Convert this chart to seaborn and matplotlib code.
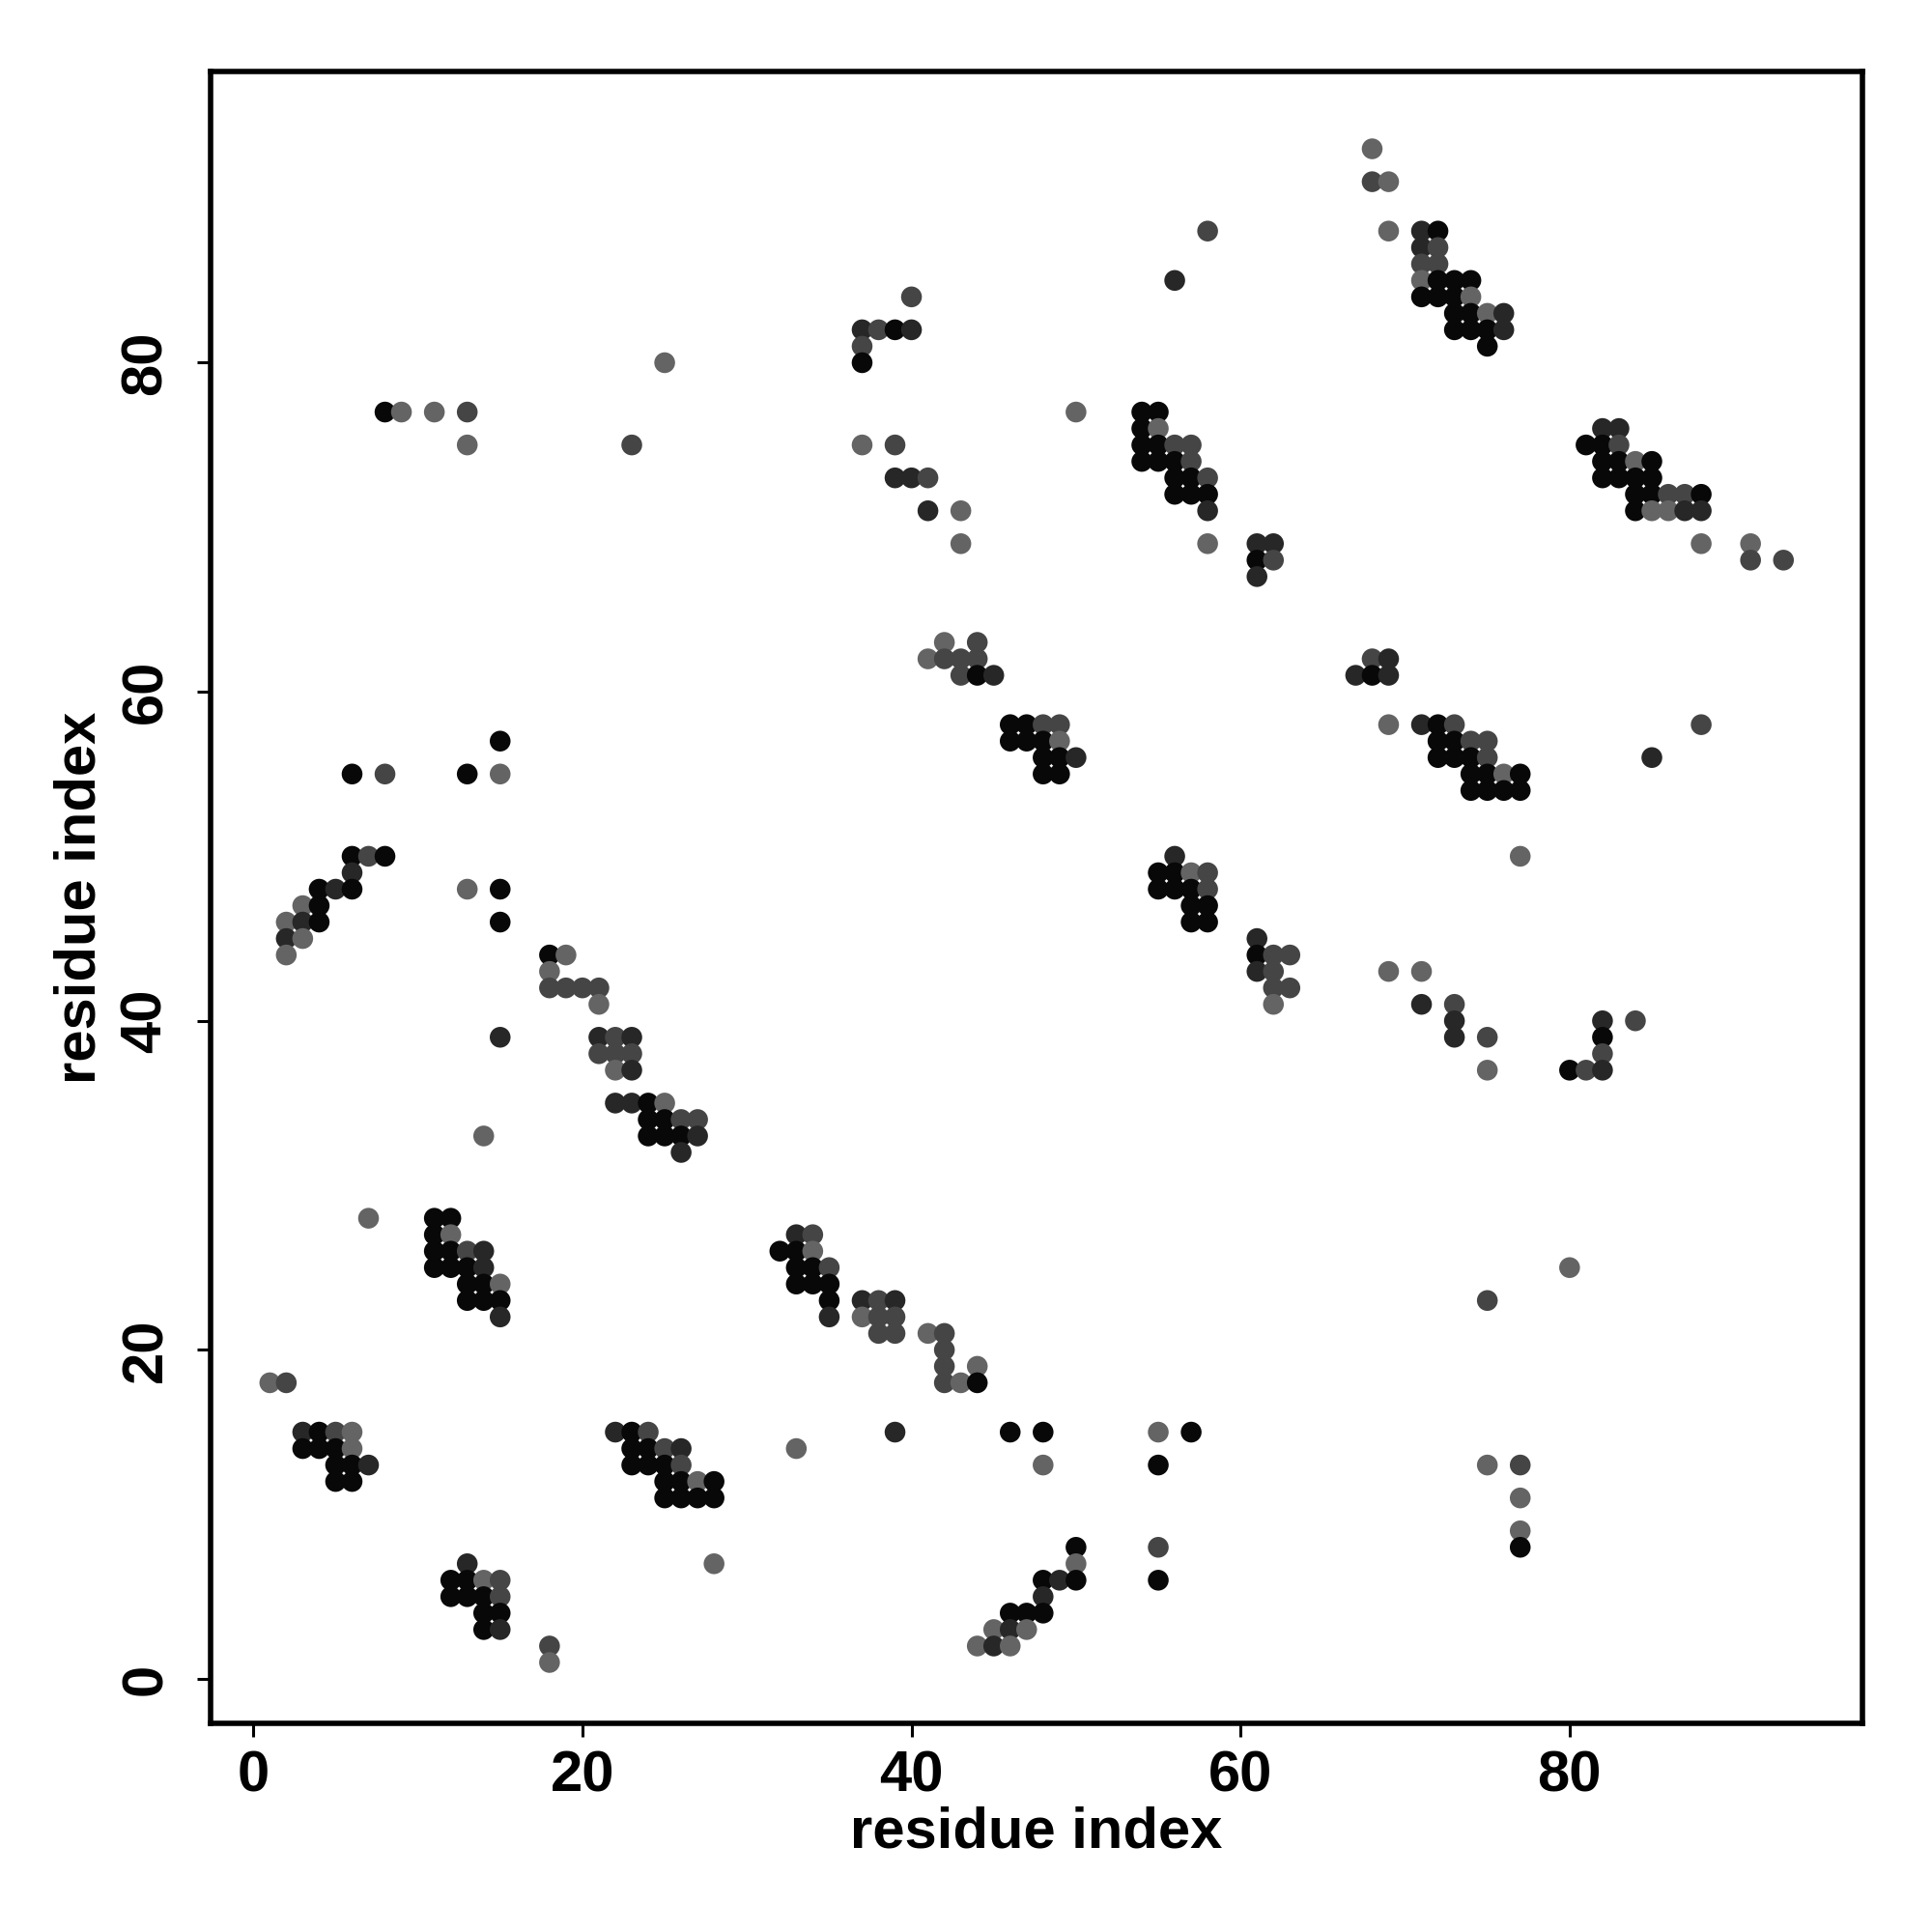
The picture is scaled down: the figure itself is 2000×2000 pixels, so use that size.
#====================================================================
# Mapa de contactos entre residuos (contact map)
#====================================================================

import pandas as pd
import matplotlib
matplotlib.use("Agg")
import matplotlib.pyplot as plt
from matplotlib.colors import LinearSegmentedColormap
import seaborn as sns

#====================================================================
# DATOS: residuo i, residuo j, score del contacto
#====================================================================

res_i = [
    8, 9, 11, 13, 13, 23, 25,
    58, 56, 40, 37, 38, 39, 40, 37, 37, 50, 54, 55, 54, 55,
    54, 55, 56, 57, 54, 55, 56, 57, 56, 57, 58, 56, 57, 58, 58, 58,
    37, 39, 39, 40, 41, 41, 43, 43, 61, 62, 61, 62, 61,
    68, 68, 69, 69, 71, 72, 71, 72, 71, 72, 71, 72, 73, 74,
    71, 72, 73, 74, 73, 74, 75, 76, 73, 74, 75, 76, 75,
    82, 83, 81, 82, 83, 82, 83, 84, 85, 82, 83, 84, 85,
    84, 85, 86, 87, 88, 84, 85, 86, 87, 88, 88, 91, 91, 93,
    15, 6, 8, 13, 15, 6, 7, 8, 6, 4, 5, 6, 13, 15, 3, 4,
    2, 3, 4, 15, 2, 3, 2, 18, 19, 18, 18, 19, 20, 21, 21, 15,
    21, 22, 23, 21, 22, 23, 22, 23, 14,
    22, 23, 24, 25, 24, 25, 26, 27, 24, 25, 26, 27, 26,
    42, 44, 41, 42, 43, 44, 43, 44, 45,
    46, 47, 48, 49, 46, 47, 48, 49, 48, 49, 50, 48, 49,
    56, 55, 56, 57, 58, 55, 56, 57, 58, 57, 58, 57, 58,
    61, 61, 62, 63, 61, 62, 62, 63, 62,
    68, 69, 67, 68, 69, 69, 71, 72, 73, 88, 72, 73, 74, 75,
    72, 73, 74, 75, 85, 74, 75, 76, 77, 74, 75, 76, 77, 77,
    69, 71, 71, 73, 73, 82, 84, 73, 75, 82, 82, 75, 80, 81, 82,
    7, 11, 12, 11, 12, 11, 12, 13, 14, 11, 12, 13, 14,
    13, 14, 15, 13, 14, 15, 15, 1, 2,
    3, 4, 5, 6, 3, 4, 5, 6, 5, 6, 7, 5, 6,
    22, 23, 24, 23, 24, 25, 26, 23, 24, 25, 26,
    25, 26, 27, 28, 25, 26, 27, 28, 28, 13,
    12, 13, 14, 15, 12, 13, 14, 15, 14, 15, 14, 15, 18, 18,
    33, 34, 32, 33, 34, 33, 34, 35, 33, 34, 35,
    35, 37, 38, 39, 35, 37, 38, 39, 38, 39, 41, 42, 42, 42, 44,
    42, 43, 44, 39, 46, 48, 55, 57, 33, 48, 55, 50, 55, 50,
    48, 49, 50, 55, 48, 46, 47, 48, 45, 46, 47, 44, 45, 46,
    80, 75, 75, 77, 77, 77, 77,
]

res_j = [
    77, 77, 77, 77, 75, 75, 80,
    88, 85, 84, 82, 82, 82, 82, 81, 80, 77, 77, 77, 76, 76,
    75, 75, 75, 75, 74, 74, 74, 74, 73, 73, 73, 72, 72, 72, 71, 69,
    75, 75, 73, 73, 73, 71, 71, 69, 69, 69, 68, 68, 67,
    93, 91, 91, 88, 88, 88, 87, 87, 86, 86, 85, 85, 85, 85,
    84, 84, 84, 84, 83, 83, 83, 83, 82, 82, 82, 82, 81,
    76, 76, 75, 75, 75, 74, 74, 74, 74, 73, 73, 73, 73,
    72, 72, 72, 72, 72, 71, 71, 71, 71, 71, 69, 69, 68, 68,
    57, 55, 55, 55, 55, 50, 50, 50, 49, 48, 48, 48, 48, 48, 47, 47,
    46, 46, 46, 46, 45, 45, 44, 44, 44, 43, 42, 42, 42, 42, 41, 39,
    39, 39, 39, 38, 38, 38, 37, 37, 33,
    35, 35, 35, 35, 34, 34, 34, 34, 33, 33, 33, 33, 32,
    63, 63, 62, 62, 62, 62, 61, 61, 61,
    58, 58, 58, 58, 57, 57, 57, 57, 56, 56, 56, 55, 55,
    50, 49, 49, 49, 49, 48, 48, 48, 48, 47, 47, 46, 46,
    45, 44, 44, 44, 43, 43, 42, 42, 41,
    62, 62, 61, 61, 61, 58, 58, 58, 58, 58, 57, 57, 57, 57,
    56, 56, 56, 56, 56, 55, 55, 55, 55, 54, 54, 54, 54, 50,
    43, 43, 41, 41, 40, 40, 40, 39, 39, 39, 38, 37, 37, 37, 37,
    28, 28, 28, 27, 27, 26, 26, 26, 26, 25, 25, 25, 25,
    24, 24, 24, 23, 23, 23, 22, 18, 18,
    15, 15, 15, 15, 14, 14, 14, 14, 13, 13, 13, 12, 12,
    15, 15, 15, 14, 14, 14, 14, 13, 13, 13, 13,
    12, 12, 12, 12, 11, 11, 11, 11, 7, 7,
    6, 6, 6, 6, 5, 5, 5, 5, 4, 4, 3, 3, 2, 1,
    27, 27, 26, 26, 26, 25, 25, 25, 24, 24, 24,
    23, 23, 23, 23, 22, 22, 22, 22, 21, 21, 21, 21, 20, 19, 19,
    18, 18, 18, 15, 15, 15, 15, 15, 14, 13, 13, 8, 8, 7,
    6, 6, 6, 6, 5, 4, 4, 4, 3, 3, 3, 2, 2, 2,
    25, 23, 13, 13, 11, 9, 8,
]

score = [
    .95, .5, .5, .65, .5, .65, .5,
    .65, .8, .65, .8, .65, .95, .8, .65, .95, .5, .95, .95, .95, .5,
    .95, .95, .65, .65, .95, .95, .95, .65, .95, .95, .65, .95, .95, .95, .8, .5,
    .5, .65, .8, .8, .65, .8, .5, .5, .8, .8, .95, .65, .8,
    .5, .65, .5, .5, .8, .95, .8, .65, .65, .65, .5, .95, .95, .95,
    .95, .95, .95, .5, .95, .95, .5, .8, .95, .95, .95, .8, .95,
    .8, .8, .95, .95, .65, .95, .95, .5, .95, .95, .95, .95, .95,
    .95, .95, .65, .65, .95, .95, .5, .5, .8, .8, .5, .5, .65, .65,
    .95, .95, .65, .95, .5, .95, .65, .95, .8, .95, .8, .95, .5, .95, .5, .95,
    .5, .8, .95, .95, .8, .5, .5, .95, .5, .5, .65, .65, .65, .65, .5, .8,
    .8, .65, .8, .65, .65, .65, .5, .8, .5,
    .8, .8, .95, .5, .95, .95, .65, .65, .95, .95, .95, .8, .8,
    .5, .65, .5, .65, .65, .65, .65, .95, .8,
    .95, .95, .65, .65, .95, .95, .95, .5, .95, .95, .8, .95, .95,
    .8, .95, .95, .5, .65, .95, .95, .95, .65, .95, .95, .95, .95,
    .8, .95, .65, .65, .8, .65, .65, .65, .5,
    .65, .8, .8, .95, .8, .5, .8, .95, .65, .65, .95, .95, .65, .65,
    .95, .95, .95, .65, .8, .95, .95, .5, .95, .95, .95, .95, .95, .5,
    .5, .5, .8, .65, .8, .8, .65, .8, .65, .95, .65, .5, .95, .65, .8,
    .5, .95, .95, .95, .5, .95, .95, .65, .8, .95, .95, .95, .8,
    .95, .95, .5, .95, .95, .95, .8, .5, .65,
    .8, .95, .65, .5, .95, .95, .95, .5, .95, .95, .8, .95, .95,
    .8, .95, .65, .95, .95, .65, .8, .95, .95, .95, .65,
    .95, .95, .5, .95, .95, .95, .95, .95, .5, .8,
    .95, .95, .5, .65, .95, .95, .95, .65, .95, .95, .95, .8, .65, .5,
    .8, .65, .95, .95, .5, .95, .95, .65, .95, .95, .95,
    .95, .8, .65, .8, .8, .5, .65, .65, .65, .65, .5, .65, .65, .65, .5,
    .65, .5, .95, .8, .95, .95, .5, .95, .5, .5, .95, .95, .65, .5,
    .95, .8, .95, .95, .8, .95, .95, .95, .5, .8, .5, .5, .8, .5,
    .5, .65, .5, .65, .5, .5, .95,
]

assert len(res_i) == len(res_j) == len(score)

df = pd.DataFrame({"i": res_i, "j": res_j, "score": score})

#====================================================================
# GRAFICO
#====================================================================

sns.set_style("white")
plt.rcParams["font.family"] = ["Liberation Sans", "DejaVu Sans"]
plt.rcParams["text.color"] = "black"
plt.rcParams["axes.labelcolor"] = "black"
plt.rcParams["xtick.color"] = "black"
plt.rcParams["ytick.color"] = "black"

fig = plt.figure(figsize=(10, 10), dpi=200)
ax = fig.add_axes([0.109, 0.108, 0.855, 0.855])

grays = LinearSegmentedColormap.from_list("grays", ["#646464", "#080808"])

sns.scatterplot(
    data=df,
    x="i",
    y="j",
    hue="score",
    palette=grays,
    hue_norm=(0.5, 0.95),
    s=60,
    linewidth=0,
    legend=False,
    ax=ax
)

ax.set_xlim(-2.6, 97.8)
ax.set_ylim(-2.7, 97.7)
ax.set_xticks([0, 20, 40, 60, 80])
ax.set_yticks([0, 20, 40, 60, 80])

ax.tick_params(axis="both", direction="out", length=5, width=1.1,
               labelsize=21.5, colors="black", left=True, bottom=True)
ax.tick_params(axis="x", pad=5)
ax.tick_params(axis="y", pad=9)
for lab in ax.get_yticklabels():
    lab.set_rotation(90)
    lab.set_va("center")
for lab in ax.get_xticklabels() + ax.get_yticklabels():
    lab.set_fontweight("bold")

for sp in ax.spines.values():
    sp.set_visible(True)
    sp.set_color("black")
    sp.set_linewidth(2.0)

ax.set_xlabel("residue index", fontsize=21.5, fontweight="bold", labelpad=1)
ax.set_ylabel("residue index", fontsize=21.5, fontweight="bold", labelpad=5)

fig.savefig("out.png", dpi=200, facecolor="white")
